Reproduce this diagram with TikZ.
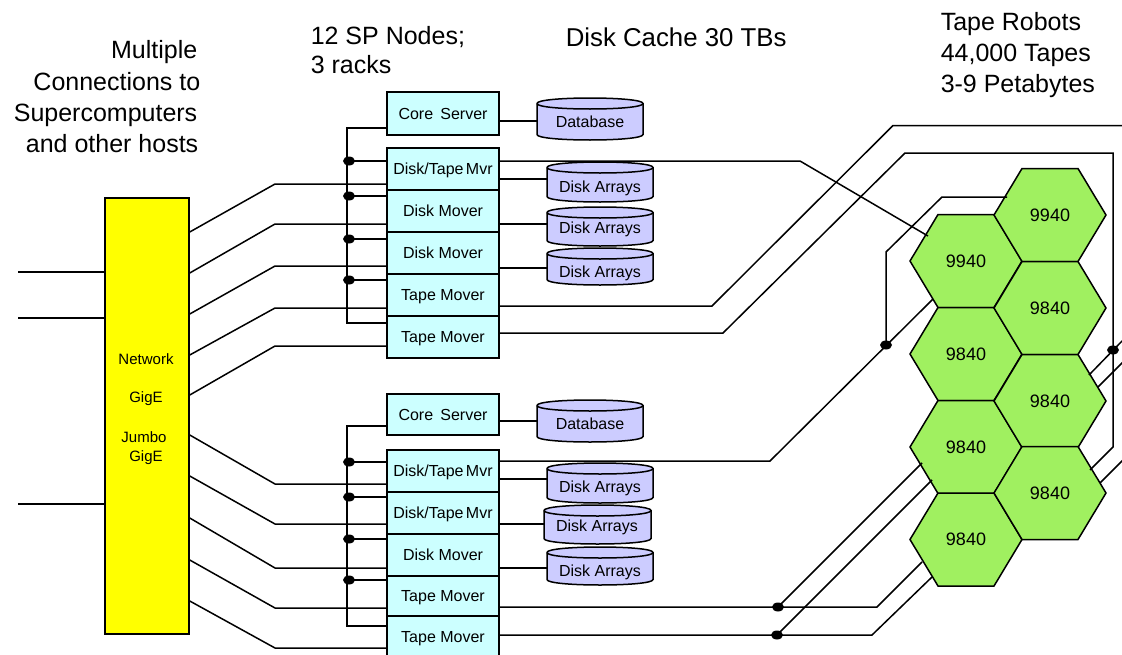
\documentclass[tikz,border=0pt]{standalone}
\usepackage{fontspec}
\setmainfont{Liberation Sans}
\usetikzlibrary{shapes.geometric}
\definecolor{hexgreen}{RGB}{160,240,96}
\definecolor{boxcyan}{RGB}{204,255,255}
\definecolor{cylblue}{RGB}{204,204,255}
\definecolor{netyellow}{RGB}{255,255,0}
\newcommand{\cylat}[4]{% left, right, top, bottom
  \filldraw[cylfill] (#1,#3+5.5) -- (#1,#4-5.5)
     .. controls (#1,#4+1.83) and (#2,#4+1.83) .. (#2,#4-5.5)
     -- (#2,#3+5.5)
     .. controls (#2,#3-1.83) and (#1,#3-1.83) .. (#1,#3+5.5) -- cycle;
  \draw (#1,#3+5.5) .. controls (#1,#3+12.83) and (#2,#3+12.83) .. (#2,#3+5.5);
}
\newcommand{\hexat}[4]{% x, y, label, name
  \filldraw[hexfill] (#1-56,#2) -- (#1-28,#2-46.5) -- (#1+28,#2-46.5) -- (#1+56,#2)
     -- (#1+28,#2+46.5) -- (#1-28,#2+46.5) -- cycle;
  \node[hexlabel] (#4) at (#1,#2) {#3};
}
\begin{document}
\begin{tikzpicture}[x=1pt,y=-1pt,line width=1.5pt,
  title/.style={font=\fontsize{25}{30}\selectfont, inner sep=0},
  spbox/.style={draw, fill=boxcyan, minimum width=112pt, minimum height=42pt, inner sep=0,
     font=\fontsize{16}{18}\selectfont, text height=11.4pt, text depth=0pt},
  small/.style={font=\fontsize{15}{18}\selectfont, inner sep=0, text height=10.7pt, text depth=0pt},
  cyltext/.style={font=\fontsize{16}{18}\selectfont, inner sep=0, text height=11.4pt, text depth=0pt},
  hexlabel/.style={font=\fontsize{18}{20}\selectfont, inner sep=0},
  junc/.style={ellipse, fill=black, minimum width=12pt, minimum height=9pt, inner sep=0, draw=none},
  hexfill/.style={draw, fill=hexgreen, line join=miter},
  cylfill/.style={draw, fill=cylblue},
  wire/.style={draw, line join=miter}
]
\useasboundingbox (0,0) rectangle (1122,654);

% ---------- titles ----------
\node[title, anchor=base east] (m1) at (198,58) {Multiple};
\node[title, anchor=base east] (m2) at (201,90) {Connections to};
\node[title, anchor=base east] (m3) at (198,121) {Supercomputers};
\node[title, anchor=base east] (m4) at (199,152) {and other hosts};
\node[title, anchor=base west] (sp1) at (310,44) {12 SP Nodes;};
\node[title, anchor=base west] (sp2) at (310,73) {3 racks};
\node[title, font=\fontsize{25.8}{30}\selectfont, anchor=base west] (dc) at (565,46) {Disk Cache 30 TBs};
\node[title, anchor=base west] (tr1) at (940,30) {Tape Robots};
\node[title, anchor=base west] (tr2) at (940,61) {44,000 Tapes};
\node[title, anchor=base west] (tr3) at (940,92) {3-9 Petabytes};

% ---------- hexagons ----------
\hexat{966}{261}{9940}{h1}
\hexat{966}{354}{9840}{h2}
\hexat{966}{447}{9840}{h3}
\hexat{966}{539.5}{9840}{h4}
\hexat{1050}{215}{9940}{h5}
\hexat{1050}{308}{9840}{h6}
\hexat{1050}{401}{9840}{h7}
\hexat{1050}{493}{9840}{h8}

% ---------- network box ----------
\node[draw, fill=netyellow, minimum width=84pt, minimum height=436pt, inner sep=0] (net) at (147,416) {};
\node[small] (nt1) at (146,359) {Network};
\node[small] (nt2) at (146,397) {GigE};
\node[small] (nt3) at (144,437) {Jumbo};
\node[small] (nt4) at (146,456) {GigE};

% ---------- SP nodes ----------
\node[spbox, minimum height=43pt] (cs1) at (443,113.5) {Core\hspace{0.45em}Server};
\node[spbox] (u1) at (443,169) {Disk/Tape\hspace{0.15em}Mvr};
\node[spbox] (u2) at (443,211) {Disk Mover};
\node[spbox] (u3) at (443,253) {Disk Mover};
\node[spbox] (u4) at (443,295) {Tape Mover};
\node[spbox] (u5) at (443,337) {Tape Mover};

\node[spbox, minimum height=41pt] (cs2) at (443,414.5) {Core\hspace{0.45em}Server};
\node[spbox] (l1) at (443,471) {Disk/Tape\hspace{0.15em}Mvr};
\node[spbox] (l2) at (443,513) {Disk/Tape\hspace{0.15em}Mvr};
\node[spbox] (l3) at (443,555) {Disk Mover};
\node[spbox, minimum height=40pt] (l4) at (443,596) {Tape Mover};
\node[spbox] (l5) at (443,637) {Tape Mover};

% ---------- cylinders ----------
\cylat{537}{643}{98}{140}
\node[cyltext] (db1) at (590,122) {Database};
\cylat{547}{653}{162}{202}
\node[cyltext] (da1) at (600,187) {Disk Arrays};
\cylat{547}{653}{207}{246}
\node[cyltext] (da2) at (600,228) {Disk Arrays};
\cylat{547}{653}{248}{285}
\node[cyltext] (da3) at (600,272) {Disk Arrays};

\cylat{537}{643}{400}{442}
\node[cyltext] (db2) at (590,424) {Database};
\cylat{547}{653}{463}{503}
\node[cyltext] (da4) at (600,487) {Disk Arrays};
\cylat{544}{651}{505}{544}
\node[cyltext] (da5) at (597,526) {Disk Arrays};
\cylat{547}{653}{547}{585}
\node[cyltext] (da6) at (600,571) {Disk Arrays};

\coordinate (db1w) at (537,121);
\coordinate (da1w) at (547,179);
\coordinate (da2w) at (547,224);
\coordinate (da3w) at (547,268);
\coordinate (db2w) at (537,421);
\coordinate (da4w) at (547,479);
\coordinate (da5w) at (544,524);
\coordinate (da6w) at (547,568);

% ---------- inputs ----------
\coordinate (in1) at (18,272);
\coordinate (in2) at (18,318);
\coordinate (in3) at (18,504);
\draw[wire] (in1) -- (in1 -| net.west);
\draw[wire] (in2) -- (in2 -| net.west);
\draw[wire] (in3) -- (in3 -| net.west);

% ---------- network to SP nodes ----------
\draw[wire] (net.east |- 0,232) -- (275,184) -- (u1.west |- 0,184);
\draw[wire] (net.east |- 0,273) -- (275,224) -- (u2.west |- 0,224);
\draw[wire] (net.east |- 0,314) -- (275,266) -- (u3.west |- 0,266);
\draw[wire] (net.east |- 0,355) -- (275,308) -- (u4.west |- 0,308);
\draw[wire] (net.east |- 0,395) -- (275,346) -- (u5.west |- 0,346);
\draw[wire] (net.east |- 0,435) -- (275,484) -- (l1.west |- 0,484);
\draw[wire] (net.east |- 0,476) -- (275,524) -- (l2.west |- 0,524);
\draw[wire] (net.east |- 0,518) -- (275,568) -- (l3.west |- 0,568);
\draw[wire] (net.east |- 0,560) -- (275,608) -- (l4.west |- 0,608);
\draw[wire] (net.east |- 0,601) -- (275,648) -- (l5.west |- 0,648);

% ---------- buses ----------
\draw[wire] (cs1.west |- 0,128) -- (347,128) -- (347,323) -- (u5.west |- 0,323);
\draw[wire] (347,161) -- (u1.west |- 0,161);
\draw[wire] (347,196) -- (u2.west |- 0,196);
\draw[wire] (347,239) -- (u3.west |- 0,239);
\draw[wire] (347,280) -- (u4.west |- 0,280);
\node[junc] (b1) at (349,161) {};
\node[junc] (b2) at (349,196) {};
\node[junc] (b3) at (349,239) {};
\node[junc] (b4) at (349,280) {};

\draw[wire] (cs2.west |- 0,426) -- (347,426) -- (347,626) -- (l5.west |- 0,626);
\draw[wire] (347,462) -- (l1.west |- 0,462);
\draw[wire] (347,497) -- (l2.west |- 0,497);
\draw[wire] (347,539) -- (l3.west |- 0,539);
\draw[wire] (347,580) -- (l4.west |- 0,580);
\node[junc] (b5) at (349,462) {};
\node[junc] (b6) at (349,497) {};
\node[junc] (b7) at (349,539) {};
\node[junc] (b8) at (349,580) {};

% ---------- to disks ----------
\draw[wire] (cs1.east |- db1w) -- (db1w);
\draw[wire] (u1.east |- da1w) -- (da1w);
\draw[wire] (u2.east |- da2w) -- (da2w);
\draw[wire] (u3.east |- da3w) -- (da3w);
\draw[wire] (cs2.east |- db2w) -- (db2w);
\draw[wire] (l1.east |- da4w) -- (da4w);
\draw[wire] (l2.east |- da5w) -- (da5w);
\draw[wire] (l3.east |- da6w) -- (da6w);

% ---------- to tape robots (upper rack) ----------
\coordinate (e1) at (928,236);
\coordinate (e2) at (1124,125.5);
\coordinate (e3) at (1090,470);
\draw[wire] (u1.east |- 0,161) -- (800,161) -- (e1);
\draw[wire] (u4.east |- 0,306) -- (712,306) -- (893,125.5) -- (e2);
\draw[wire] (u5.east |- 0,333) -- (723,333) -- (905,153) -- (1113,153) -- (1113,447) -- (e3);
\coordinate (r1) at (1124,339);
\coordinate (r2) at (1124,361);
\coordinate (r3) at (1124,459);
\draw[wire] (r1) -- (1089,375);
\draw[wire] (r2) -- (1098,387);
\draw[wire] (r3) -- (1100,483);
\node[junc] (jr) at (1113,350) {};

% ---------- to tape robots (lower rack) ----------
\coordinate (e4) at (933,299);
\coordinate (e5) at (1007,197);
\draw[wire] (l1.east |- 0,461) -- (770,461) -- (e4);
\draw[wire] (886,345) -- (886,252) -- (942,197) -- (e5);
\node[junc] (jt) at (886,345) {};

\coordinate (e6) at (922,562);
\coordinate (e7) at (922,463);
\coordinate (e8) at (932,577);
\coordinate (e9) at (932,480);
\draw[wire] (l4.east |- 0,607) -- (877,607) -- (e6);
\draw[wire] (778,607) -- (e7);
\node[junc] (jb1) at (778,607) {};
\draw[wire] (l5.east |- 0,635) -- (872,635) -- (e8);
\draw[wire] (777,635) -- (e9);
\node[junc] (jb2) at (777,635) {};
\end{tikzpicture}
\end{document}
